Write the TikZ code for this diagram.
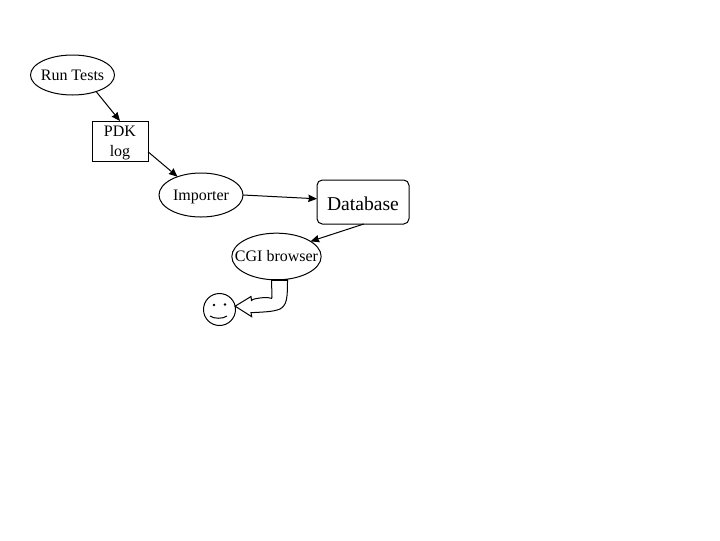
\documentclass[tikz,border=0pt]{standalone}
\usepackage{fontspec}
\setmainfont{Liberation Serif}
\usetikzlibrary{shapes.geometric,arrows.meta}
\newcommand{\placed}[2]{\makebox[0pt]{\raisebox{#1}[0pt][0pt]{#2}}}
\tikzset{
  px/.style={x=0.75pt,y=-0.75pt},
  base/.style={draw=black,line width=0.75pt,inner sep=0pt,outer sep=0pt,text=black,align=center},
  oval/.style={base,ellipse,font=\fontsize{12pt}{14pt}\selectfont},
  conn/.style={line width=0.75pt,-{Stealth[length=6.5pt,width=5.5pt,inset=0.5pt]}},
  fat/.style={line width=0.75pt,line join=miter},
}
\begin{document}
\begin{tikzpicture}[px]
\useasboundingbox (0,0) rectangle (720,540);
\node[oval,minimum width=63pt,minimum height=30pt] (run) at (72.5,75) {\placed{-4pt}{Run Tests}};
\node[base,rectangle,minimum width=42pt,minimum height=30pt,font=\fontsize{12pt}{15pt}\selectfont] (pdk) at (120,141) {\placed{3.5pt}{PDK}\placed{-11.25pt}{log}};
\node[oval,minimum width=63pt,minimum height=33pt] (imp) at (201,195) {\placed{-4pt}{Importer}};
\node[base,rectangle,rounded corners=4pt,minimum width=69pt,minimum height=33pt,font=\fontsize{14.7pt}{17pt}\selectfont] (db) at (363,202) {\placed{-6pt}{Database}};
\node[oval,minimum width=67pt,minimum height=35pt] (cgi) at (276.5,256.5) {\placed{-3.9pt}{CGI browser}};
\node[base,circle,minimum size=24pt] (face) at (219.5,309.5) {};
\draw[conn] (run.-35) -- (pdk.north);
\draw[conn] (pdk.-21) -- (imp.142);
\draw[conn] (imp.east) -- (db.176);
\draw[conn] (db.-88) -- (cgi.24);
% block arrow from the browser to the face
\coordinate (ftip) at (face.12);
\draw[fat] (271.5,280) -- (272,297)
  .. controls (272,300) and (270,297) .. (265,297.5)
  .. controls (258,298) and (252,299) .. (251.5,300.5)
  -- (251,296.5) -- (ftip) -- (251.7,316.7) -- (251,312.7)
  .. controls (262,312) and (273,312) .. (280,309)
  .. controls (287,305) and (287.5,298) .. (287.5,280);
\draw[line width=1.5pt] (271.5,280) -- (287.5,280);
% face details
\fill (214,305) circle (1pt);
\fill (225,304.5) circle (1pt);
\draw[line width=0.75pt] (210,316) .. controls (214,319) and (223,319) .. (227,316);
\end{tikzpicture}
\end{document}
